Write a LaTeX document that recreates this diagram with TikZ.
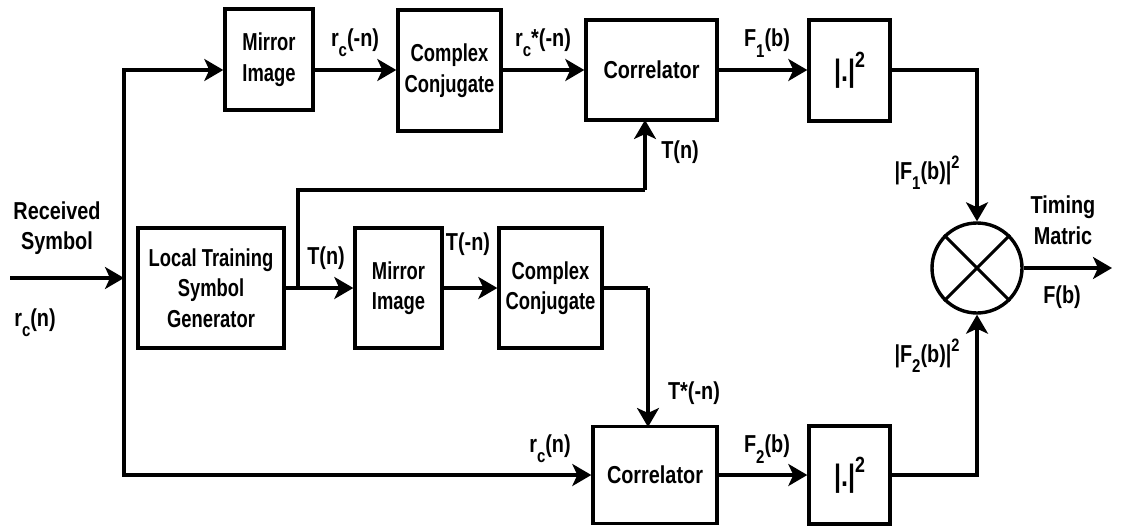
\documentclass[tikz,border=0pt]{standalone}
\usepackage{fontspec}
\setmainfont{Liberation Sans}[FakeStretch=0.81]
\newfontfamily\narrowfont{Liberation Sans}[FakeStretch=0.75]
\usetikzlibrary{arrows.meta}
% lowered / raised small text for indices and powers
\newcommand\lo[1]{\raisebox{-0.42em}{\fontsize{18.5}{18.5}\selectfont #1}}
\newcommand\hi[1]{\raisebox{0.45em}{\fontsize{18}{18}\selectfont #1}}
\begin{document}
\begin{tikzpicture}[x=1pt,y=-1pt,
  txt/.style={font=\fontsize{24.5}{30.5}\selectfont\bfseries, align=center, inner sep=0pt},
  block/.style={txt, draw, line width=3.4pt, inner sep=0pt},
  narrow/.style={font=\fontsize{24.5}{30.5}\selectfont\narrowfont\bfseries},
  wire/.style={line width=3.1pt},
  arr/.style={wire, -{Stealth[length=19pt,width=22pt,inset=5pt]}},
  lbl/.style={txt}]
\useasboundingbox (0,0) rectangle (1121,527);

% rows of the signal paths
\coordinate (rowA) at (0,70);
\coordinate (rowB) at (0,288);
\coordinate (rowC) at (0,475);

% upper branch
\node[block, narrow, minimum width=88pt, minimum height=101pt] (mir1) at (269,59.5) {Mirror\\Image};
\node[block, narrow, minimum width=103pt, minimum height=121pt] (cc1) at (449.5,70.5) {Complex\\Conjugate};
\node[block, minimum width=131pt, minimum height=100pt] (cor1) at (651.5,70) {Correlator};
\node[block, minimum width=81pt, minimum height=101pt] (abs1) at (849.5,70.5) {\fontsize{31}{31}\selectfont|.|\raisebox{0.45em}{\fontsize{22}{22}\selectfont 2}};

% training symbol branch
\node[block, narrow, minimum width=146pt, minimum height=120pt] (lts) at (211,288) {Local Training\\Symbol\\Generator};
\node[block, narrow, minimum width=87pt, minimum height=120pt] (mir2) at (398.5,288) {Mirror\\Image};
\node[block, narrow, minimum width=103pt, minimum height=120pt] (cc2) at (550.5,288) {Complex\\Conjugate};

% lower branch
\node[block, minimum width=124pt, minimum height=97pt] (cor2) at (655,475) {Correlator};
\node[block, minimum width=81pt, minimum height=98pt] (abs2) at (849.5,475) {\fontsize{31}{31}\selectfont|.|\raisebox{0.45em}{\fontsize{22}{22}\selectfont 2}};

% multiplier
\node[draw, circle, line width=3.4pt, minimum size=90pt, inner sep=0pt] (mult) at (977,268) {};
\draw[wire] (mult.north west) -- (mult.south east);
\draw[wire] (mult.north east) -- (mult.south west);

% input and distribution
\coordinate (src) at (10,278);
\coordinate (jn) at (124,278);
\coordinate (out) at (1112,268);
\coordinate (tap) at (298,288);
\draw[arr] (src) -- (jn);
\draw[arr] (jn) |- (mir1.west |- rowA);
\draw[arr] (jn) |- (cor2.west |- rowC);

% upper chain
\draw[arr] (mir1.east |- rowA) -- (cc1.west |- rowA);
\draw[arr] (cc1.east |- rowA) -- (cor1.west |- rowA);
\draw[arr] (cor1.east |- rowA) -- (abs1.west |- rowA);
\draw[arr] (abs1.east |- rowA) -| (mult.north);

% training chain
\draw[arr] (lts.east) -- (mir2.west);
\draw[arr] (mir2.east) -- (cc2.west);
\draw[wire] (tap) -- (298,190) -- (645,190);
\draw[arr] (645,190) -- (645,120);
\draw[wire] (cc2.east) -- (648,288);
\draw[arr] (648,288) -- (648,427);

% lower chain
\draw[arr] (cor2.east) -- (abs2.west);
\draw[arr] (abs2.east) -| (mult.south);
\draw[arr] (mult.east) -- (out);

% signal labels
\node[lbl] at (57,228) {Received\\Symbol};
\node[lbl] at (35,323) {r\lo{c}(n)};
\node[lbl] at (355,43) {r\lo{c}(-n)};
\node[lbl] at (543,43) {r\lo{c}*(-n)};
\node[lbl] at (767,43) {F\lo{1}(b)};
\node[lbl] at (680,152) {T(n)};
\node[lbl] at (927,173) {|F\lo{1}(b)|\hi{2}};
\node[lbl] at (1063,220) {Timing\\Matric};
\node[lbl] at (1062,297) {F(b)};
\node[lbl] at (927,356) {|F\lo{2}(b)|\hi{2}};
\node[lbl] at (767,449) {F\lo{2}(b)};
\node[lbl] at (550,449) {r\lo{c}(n)};
\node[lbl] at (694,393) {T*(-n)};
\node[lbl] at (468,244) {T(-n)};
\node[lbl] at (326,258) {T(n)};
\end{tikzpicture}
\end{document}
